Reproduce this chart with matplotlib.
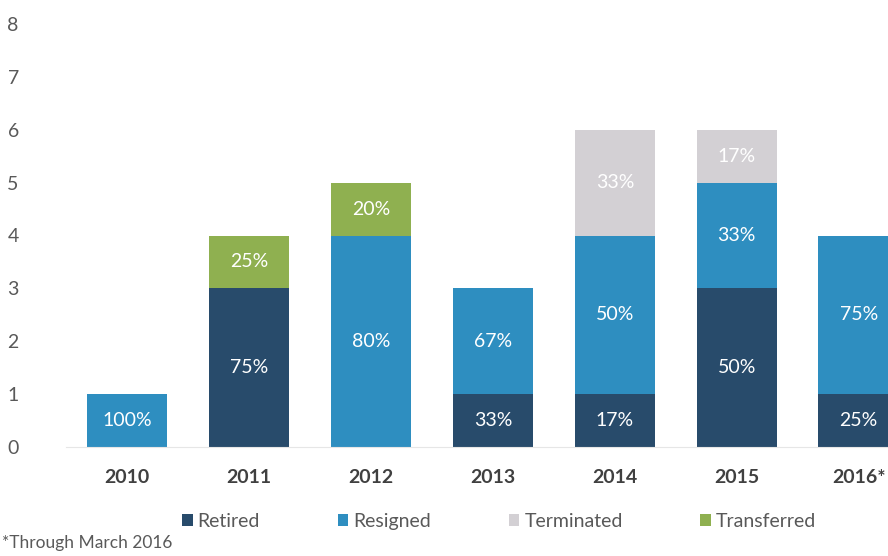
import matplotlib.pyplot as plt
import numpy as np

plt.rcParams['font.family'] = ['Lato', 'DejaVu Sans']

years = ['2010', '2011', '2012', '2013', '2014', '2015', '2016*']
series = ['Retired', 'Resigned', 'Terminated', 'Transferred']
retired = [0, 3, 0, 1, 1, 3, 1]
resigned = [1, 0, 4, 2, 3, 2, 3]
terminated = [0, 0, 0, 0, 2, 1, 0]
transferred = [0, 1, 1, 0, 0, 0, 0]
colors = ['#284b6b', '#2e8ec0', '#d3d0d4', '#8fb050']

fig = plt.figure(figsize=(8.88, 5.56), dpi=100)
ax = fig.add_axes([66 / 888, 109 / 556, 822 / 888, 423 / 556])

x = np.arange(len(years))
data = [retired, resigned, terminated, transferred]
totals = np.sum(data, axis=0)
bottom = np.zeros(len(years))
for name, vals, col in zip(series, data, colors):
    vals = np.array(vals, dtype=float)
    ax.bar(x, vals, 0.66, bottom=bottom, color=col, label=name)
    for i, v in enumerate(vals):
        if v > 0:
            pct = round(100 * v / totals[i])
            ax.text(x[i], bottom[i] + v / 2, f'{pct}%', ha='center', va='center',
                    color='white', fontsize=14)
    bottom += vals

ax.set_xlim(-0.5, 6.24)
ax.set_ylim(0, 8)
ax.set_xticks(x)
ax.set_xticklabels(years, fontweight='bold', fontsize=14, color='#404040')
ax.set_yticks(range(9))
ax.tick_params(axis='y', length=0, pad=34, labelsize=14, labelcolor='#595959')
ax.tick_params(axis='x', length=0, pad=16)
for s in ['top', 'right', 'left']:
    ax.spines[s].set_visible(False)
ax.spines['bottom'].set_color('#e6e6e6')

fig.legend(loc='center', bbox_to_anchor=(0.562, 0.062), ncol=4, frameon=False,
           fontsize=14, handlelength=0.55, handleheight=0.55, handletextpad=0.25,
           columnspacing=4.0, labelcolor='#595959')
fig.text(0.002, 0.014, '*Through March 2016', fontsize=12.5, color='#595959')

fig.savefig('out.png', dpi=100)
